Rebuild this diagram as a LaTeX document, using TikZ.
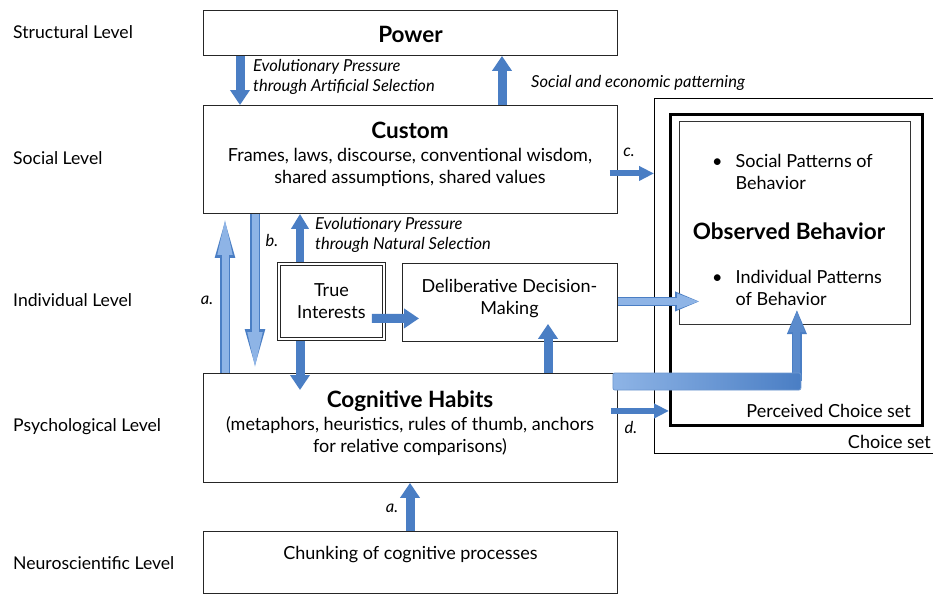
\documentclass[tikz,border=0pt]{standalone}
\usepackage{fontspec}
\setmainfont{Lato}
\usetikzlibrary{arrows.meta}
\definecolor{arrowblue}{RGB}{74,126,196}
\definecolor{paleblue}{RGB}{142,180,230}
\def\titlefont{\fontsize{22.5}{26}\selectfont\bfseries}
\def\bodyfont{\fontsize{18}{22}\selectfont}
\def\levelfont{\fontsize{17.6}{22}\selectfont}
\def\notefont{\fontsize{16.5}{20}\selectfont\itshape}

\tikzset{
  box/.style={draw=black!85, line width=0.9pt, fill=white, inner sep=2pt, align=center, font=\bodyfont},
  boxtext/.style={inner sep=0pt, align=center, font=\bodyfont},
  level/.style={anchor=west, inner sep=0pt, font=\levelfont},
  note/.style={anchor=west, inner sep=0pt, align=left, font=\notefont},
  fatarrow/.style={draw=arrowblue, line width=9pt, -{Triangle[width=19pt,length=15pt]}},
  slimarrow/.style={draw=arrowblue, line width=6pt, -{Triangle[width=14pt,length=15pt]}},
  longarrow/.style={draw=paleblue, line width=7pt, -{Triangle[width=13pt,length=41pt]},
    preaction={draw=arrowblue, line width=9.5pt, -{Triangle[width=17pt,length=44pt]}}},
  palearrow/.style={draw=paleblue, line width=7pt, -{Triangle[width=14pt,length=23pt]},
    preaction={draw=arrowblue, line width=9.5pt, -{Triangle[width=18pt,length=25pt]}}}
}

\begin{document}
\begin{tikzpicture}[x=1pt, y=-1pt]
		%%%%% START %%%%%
		\useasboundingbox[fill=white] (0, 0) rectangle (933, 594);
		
		% level labels
		\node[level] (lstruct) at (13, 32) {Structural Level};
		\node[level] (lsocial) at (13, 158) {Social Level};
		\node[level] (lindiv) at (13, 300) {Individual Level};
		\node[level] (lpsych) at (13, 427) {Psychological Level};
		\node[level] (lneuro) at (13, 563) {Neuroscientific Level};
		
		% choice sets
		\node[draw=black, line width=1pt, minimum width=295, minimum height=355, anchor=north west] (choice) at (654, 98) {};
		\node[anchor=south east, inner sep=0pt, font=\bodyfont] (choicelbl) at (931, 449) {Choice set};
		\node[draw=black, line width=2.6pt, minimum width=252, minimum height=311, anchor=north west] (perceived) at (669, 113) {};
		\node[anchor=south east, inner sep=0pt, font=\bodyfont] (perceivedlbl) at (911, 418) {Perceived Choice set};
		\node[draw=black!80, line width=1.2pt, minimum width=231, minimum height=203, anchor=north west] (observed) at (679, 121) {};
		\node[anchor=west, inner sep=0pt, font=\bodyfont] (socpat) at (712, 174)
			{\begin{tabular}{@{}l@{\hspace{13pt}}l@{}}\textbullet & Social Patterns of\\ & Behavior\end{tabular}};
		\node[inner sep=0pt, font=\titlefont] (obstitle) at (789, 231) {Observed Behavior};
		\node[anchor=west, inner sep=0pt, font=\bodyfont] (indpat) at (712, 290)
			{\begin{tabular}{@{}l@{\hspace{13pt}}l@{}}\textbullet & Individual Patterns\\ & of Behavior\end{tabular}};
		
		% main boxes
		\node[box, minimum width=414, minimum height=45, anchor=north west] (power) at (203, 10) {\titlefont\raisebox{-10pt}[0pt][0pt]{Power}};
		\node[box, minimum width=414, minimum height=108, anchor=north west] (custom) at (203, 105) {};
		\node[boxtext] (customtxt) at (410, 154.5)
			{{\titlefont Custom}\\[1pt] Frames, laws, discourse, conventional wisdom,\\ shared assumptions, shared values};
		\node[box, line width=0.8pt, minimum width=108, minimum height=78, anchor=north west] (truei) at (277, 262)
			{True\\ Interests};
		\draw[draw=black!85, line width=0.8pt] ([shift={(3pt,-3pt)}]truei.north west) rectangle ([shift={(-3pt,3pt)}]truei.south east);
		\node[box, minimum width=215, minimum height=78, anchor=north west] (delib) at (402, 263) {};
		\node[boxtext] (delibtxt) at (509.5, 299) {Deliberative Decision-\\ Making};
		\node[box, minimum width=414, minimum height=109, anchor=north west] (cognitive) at (203, 373) {};
		\node[boxtext] (cogtxt) at (410, 423)
			{{\titlefont Cognitive Habits}\\[1pt] (metaphors, heuristics, rules of thumb, anchors\\ for relative comparisons)};
		\node[box, minimum width=414, text height=28pt, text depth=34pt, inner ysep=0pt, anchor=north west] (chunk) at (203, 531)
			{Chunking of cognitive processes};
		
		% notes
		\node[note] (artsel) at (253, 77) {Evolutionary Pressure\\ through Artificial Selection};
		\node[note] (socecon) at (531, 83) {Social and economic patterning};
		\node[note] (natsel) at (315, 235) {Evolutionary Pressure\\ through Natural Selection};
		\node[font=\notefont, inner sep=0pt] (la) at (207, 300) {a.};
		\node[font=\notefont, inner sep=0pt] (lb) at (272, 240) {b.};
		\node[font=\notefont, inner sep=0pt] (lc) at (629, 152) {c.};
		\node[font=\notefont, inner sep=0pt] (ld) at (631, 427) {d.};
		\node[font=\notefont, inner sep=0pt] (la2) at (392, 508) {a.};
		
		% arrows
		\draw[fatarrow] ([xshift=37pt]power.south west) -- ([xshift=37pt]custom.north west);
		\draw[fatarrow] ([xshift=299pt]custom.north west) -- ([xshift=299pt]power.south west);
		\draw[longarrow] ([xshift=22pt]cognitive.north west) -- ([xshift=22pt]custom.south west);
		\draw[longarrow] ([xshift=52pt]custom.south west) -- ([xshift=52pt]cognitive.north west);
		\draw[fatarrow, line width=8pt, -{Triangle[width=17pt,length=15pt]}] ([xshift=23pt]truei.north west) -- ([xshift=97pt]custom.south west);
		\draw[fatarrow] ([xshift=23pt]truei.south west) -- ([xshift=97pt, yshift=-17pt]cognitive.north west);
		\draw[fatarrow] ([xshift=-14pt, yshift=-17pt]truei.east) -- ([xshift=17pt, yshift=-16pt]delib.west);
		\draw[fatarrow] ([xshift=345pt]cognitive.north west) -- ([xshift=146pt, yshift=18pt]delib.south west);
		\draw[palearrow, shorten >=-21pt] ([yshift=1pt]delib.east) -- ([yshift=1pt]delib.east -| observed.west);
		\draw[fatarrow] ([xshift=207pt]chunk.north west) -- ([xshift=207pt]cognitive.south west);
		
		\coordinate (cstart) at ([xshift=-8pt, yshift=-14pt]custom.east);
		\draw[slimarrow] (cstart) -- (cstart -| choice.west);
		\coordinate (dstart) at ([xshift=-7pt, yshift=17pt]cognitive.east);
		\draw[slimarrow] (dstart) -- (dstart -| perceived.west);
		
		% bent arrow to observed behavior
		\coordinate (bend) at ([xshift=179pt, yshift=-8pt]cognitive.north east);
		\draw[palearrow, draw=arrowblue!75!paleblue, shorten >=-16pt] (bend) -- (bend |- observed.south);
		\shade[left color=paleblue, right color=arrowblue, draw=arrowblue!80, line width=0.8pt, rounded corners=2pt]
			([xshift=-5pt]cognitive.north east) rectangle ++(188, 17);
		
		%%%%% END %%%%%
	\end{tikzpicture}
\end{document}
